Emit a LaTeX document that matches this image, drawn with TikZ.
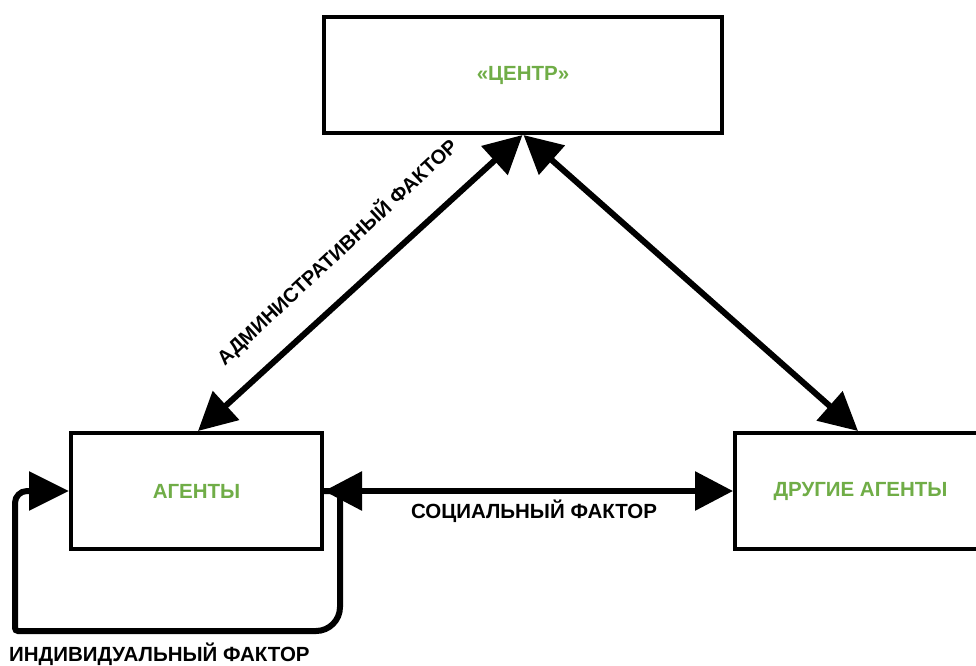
\documentclass[tikz,border=0pt]{standalone}
\usepackage{fontspec}
\setmainfont{Liberation Sans}
\usetikzlibrary{arrows.meta}
\definecolor{boxgreen}{HTML}{70AD47}
\begin{document}
\begin{tikzpicture}[x=1pt,y=-1pt,
  block/.style={draw=black, line width=4pt, fill=white, inner sep=0pt,
    minimum height=116pt, text=boxgreen,
    font=\bfseries\fontsize{20.5}{24}\selectfont},
  link/.style={line width=6pt, {Triangle[length=38pt,width=38pt]}-{Triangle[length=38pt,width=38pt]}},
  loop/.style={line width=6pt, -{Triangle[length=40pt,width=38pt]}},
  factor/.style={font=\bfseries\fontsize{20.5}{24}\selectfont, inner sep=0pt}
]
\useasboundingbox (0,0) rectangle (976,665);
\clip (0,0) rectangle (976,665);

% boxes
\node[block, minimum width=398pt] (centre) at (523,75) {«ЦЕНТР»};
\node[block, minimum width=251pt] (agents) at (196.5,491) {АГЕНТЫ};
\node[block, minimum width=251pt] (others) at (860.5,491) {ДРУГИЕ АГЕНТЫ};

% links between boxes
\draw[link] ([xshift=-0.5pt]centre.south) -- ([xshift=1.5pt]agents.north);
\draw[link] ([xshift=0.5pt]centre.south) -- ([xshift=-2.5pt]others.north);
\draw[link] (agents.east) -- (others.west);

% feedback loop of the agents onto themselves
\coordinate (loopA) at (340,491);
\coordinate (loopB) at (340,631);
\coordinate (loopC) at (15,631);
\coordinate (loopD) at (15,491);
\draw[loop] (agents.east) [rounded corners=4pt] -- (loopA)
  [rounded corners=24pt] -- (loopB)
  [rounded corners=3pt] -- (loopC)
  [rounded corners=12pt] -- (loopD)
  [sharp corners] -- (agents.west);

% labels
\node[factor, rotate=43, font=\bfseries\fontsize{20}{24}\selectfont] (adm) at (337,252) {АДМИНИСТРАТИВНЫЙ ФАКТОР};
\node[factor] (soc) at (534,511) {СОЦИАЛЬНЫЙ ФАКТОР};
\node[factor, anchor=west] (ind) at (9,654) {ИНДИВИДУАЛЬНЫЙ ФАКТОР};
\end{tikzpicture}
\end{document}
